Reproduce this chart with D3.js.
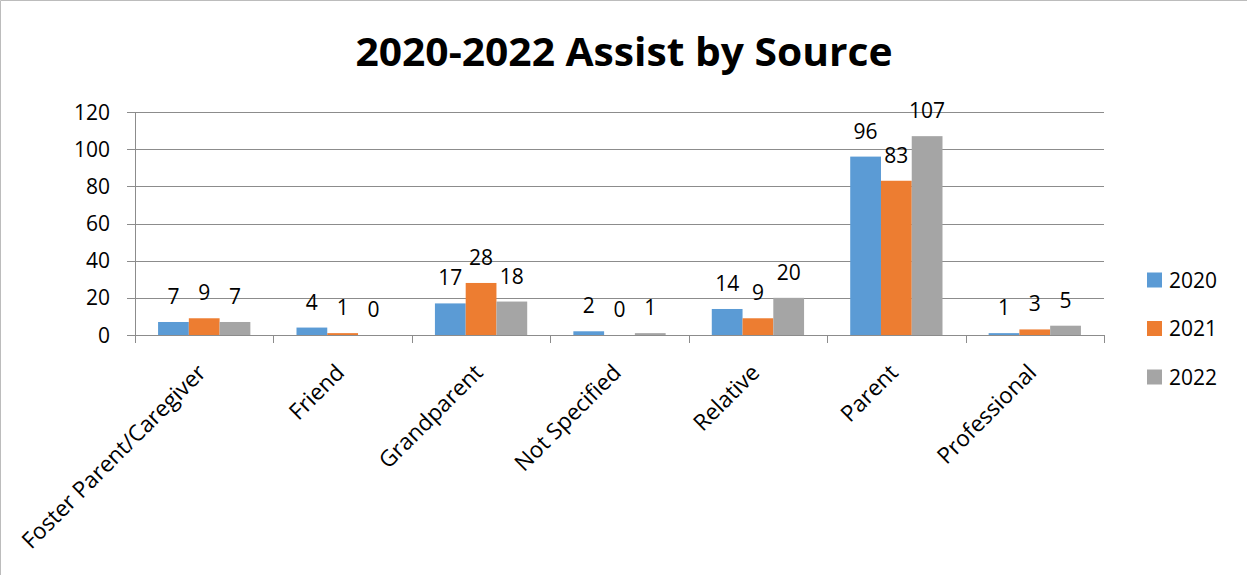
<!DOCTYPE html>
<html>
<head>
<meta charset="utf-8">
<script src="https://cdn.jsdelivr.net/npm/d3@7"></script>
<style>
  body { margin: 0; background: #fff; }
  svg { display: block; font-family: "Open Sans", "Noto Sans", sans-serif; }
</style>
</head>
<body>
<svg id="chart" width="1247" height="575"></svg>
<script>
const categories = ['Foster Parent/Caregiver', 'Friend', 'Grandparent', 'Not Specified', 'Relative', 'Parent', 'Professional'];
const years = ['2020', '2021', '2022'];
const values2020 = [7, 4, 17, 2, 14, 96, 1];
const values2021 = [9, 1, 28, 0, 9, 83, 3];
const values2022 = [7, 0, 18, 1, 20, 107, 5];
const yTicks = [0, 20, 40, 60, 80, 100, 120];
const colors = ['#5B9BD5', '#ED7D31', '#A5A5A5'];

const series = [values2020, values2021, values2022];
const svg = d3.select('#chart');
const W = 1247, H = 575;
const plot = { left: 135, right: 1104, top: 112, bottom: 335 };

// chart border (only left/top visible in the crop)
svg.append('path')
  .attr('d', `M0.5,${H} V0.5 H${W}`)
  .attr('fill', 'none')
  .attr('stroke', '#bcbcbc');

const x = d3.scaleBand().domain(categories).range([plot.left, plot.right]).paddingInner(0).paddingOuter(0);
const xi = d3.scaleBand().domain(years).range([x.bandwidth() / 6, x.bandwidth() * 5 / 6]);
const y = d3.scaleLinear().domain([0, 120]).range([plot.bottom, plot.top]);

// gridlines
svg.append('g')
  .selectAll('line')
  .data(yTicks)
  .join('line')
  .attr('x1', plot.left - 8)
  .attr('x2', plot.right)
  .attr('y1', (d) => Math.round(y(d)) + 0.5)
  .attr('y2', (d) => Math.round(y(d)) + 0.5)
  .attr('stroke', '#8c8c8c')
  .attr('stroke-width', 1);

// y tick labels
svg.append('g')
  .selectAll('text')
  .data(yTicks)
  .join('text')
  .attr('x', plot.left - 25)
  .attr('y', (d) => y(d))
  .attr('dy', '0.36em')
  .attr('text-anchor', 'end')
  .attr('font-size', 21)
  .attr('fill', '#000')
  .text((d) => d);

// bars
const groups = svg.append('g')
  .selectAll('g')
  .data(categories)
  .join('g')
  .attr('transform', (d) => `translate(${x(d)},0)`);

groups.selectAll('rect')
  .data((d, i) => years.map((yr, k) => ({ yr, k, v: series[k][i] })))
  .join('rect')
  .attr('x', (d) => xi(d.yr))
  .attr('width', xi.bandwidth())
  .attr('y', (d) => y(d.v))
  .attr('height', (d) => y(0) - y(d.v))
  .attr('fill', (d) => colors[d.k]);

groups.selectAll('text')
  .data((d, i) => years.map((yr, k) => ({ yr, k, v: series[k][i] })))
  .join('text')
  .attr('x', (d) => xi(d.yr) + xi.bandwidth() / 2)
  .attr('y', (d) => y(d.v) - 18)
  .attr('text-anchor', 'middle')
  .attr('font-size', 21)
  .attr('fill', '#000')
  .text((d) => d.v);

// axes lines
svg.append('line')
  .attr('x1', plot.left + 0.5).attr('x2', plot.left + 0.5)
  .attr('y1', plot.top).attr('y2', plot.bottom + 1)
  .attr('stroke', '#8c8c8c');

svg.append('line')
  .attr('x1', plot.left).attr('x2', plot.right)
  .attr('y1', Math.round(y(0)) + 0.5).attr('y2', Math.round(y(0)) + 0.5)
  .attr('stroke', '#8c8c8c');

const catTicks = categories.map((c) => x(c)).concat([plot.right]);
svg.append('g')
  .selectAll('line')
  .data(catTicks)
  .join('line')
  .attr('x1', (d) => Math.round(d) + 0.5)
  .attr('x2', (d) => Math.round(d) + 0.5)
  .attr('y1', plot.bottom)
  .attr('y2', plot.bottom + 8)
  .attr('stroke', '#8c8c8c');

// category labels, rotated
svg.append('g')
  .selectAll('text')
  .data(categories)
  .join('text')
  .attr('transform', (d) => `translate(${x(d) + x.bandwidth() / 2 + 3},${plot.bottom + 39}) rotate(-45)`)
  .attr('text-anchor', 'end')
  .attr('font-size', 22.5)
  .attr('fill', '#000')
  .text((d) => d);

// title
svg.append('text')
  .attr('x', 624)
  .attr('y', 66)
  .attr('text-anchor', 'middle')
  .attr('font-size', 40)
  .attr('font-weight', 'bold')
  .attr('textLength', 537)
  .attr('lengthAdjust', 'spacingAndGlyphs')
  .attr('fill', '#000')
  .text('2020-2022 Assist by Source');

// legend
const legend = svg.append('g')
  .selectAll('g')
  .data(years)
  .join('g')
  .attr('transform', (d, i) => `translate(1147,${280 + i * 48.5})`);

legend.append('rect')
  .attr('x', 0).attr('y', -7.5)
  .attr('width', 15).attr('height', 15)
  .attr('fill', (d, i) => colors[i]);

legend.append('text')
  .attr('x', 22)
  .attr('y', 0)
  .attr('dy', '0.36em')
  .attr('font-size', 21)
  .attr('fill', '#000')
  .text((d) => d);
</script>
</body>
</html>
